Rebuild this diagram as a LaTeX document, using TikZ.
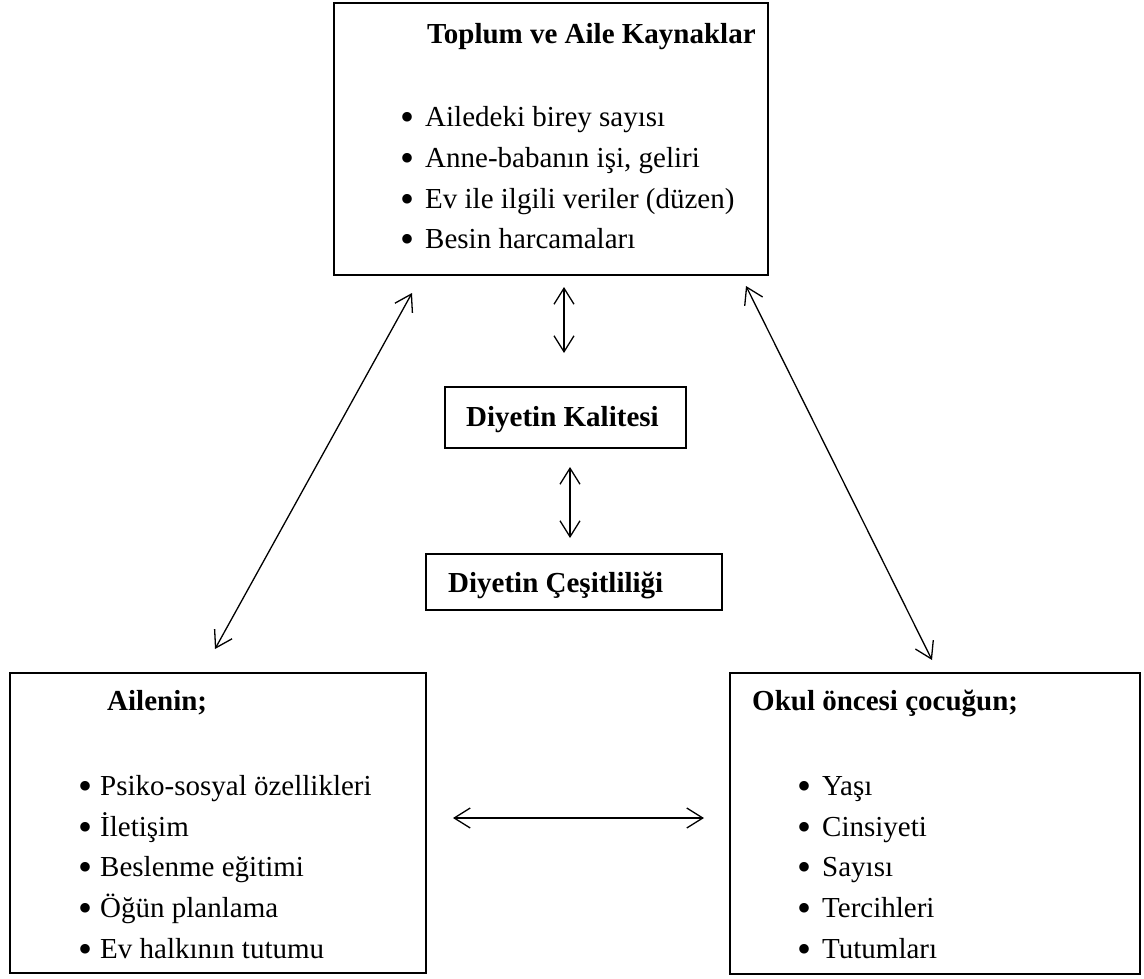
\documentclass[tikz,border=0pt]{standalone}
\usepackage{fontspec}
\setmainfont{Liberation Serif}
\usetikzlibrary{arrows.meta}
\tikzset{
  box/.style={draw, line width=1.6pt, inner sep=0pt},
  txt/.style={anchor=base west, inner sep=0pt, font=\fontsize{29}{35}\selectfont},
  bul/.style={anchor=base west, inner sep=0pt, font=\fontsize{40}{44}\selectfont, yshift=-4pt},
  ttl/.style={txt, font=\fontsize{29}{35}\selectfont\bfseries},
  conn/.style={line width=1.3pt, {Straight Barb[length=16pt,width=20pt,line width=1.3pt]}-{Straight Barb[length=16pt,width=20pt,line width=1.3pt]}},
}
\begin{document}
\begin{tikzpicture}[x=1pt,y=-1pt]
\useasboundingbox (0,0) rectangle (1144,979);
% boxes
\node[box, minimum width=434pt, minimum height=272pt] (top) at (551,139) {};
\node[box, minimum width=241pt, minimum height=61pt] (kal) at (565.5,417.5) {};
\node[box, minimum width=296pt, minimum height=56pt] (ces) at (574,582) {};
\node[box, minimum width=416pt, minimum height=300pt] (aile) at (218,823) {};
\node[box, minimum width=410pt, minimum height=301pt] (okul) at (935,823.5) {};
% top box text
\node[ttl] (t0) at (427,44) {Toplum ve Aile Kaynaklar};
\node[bul] (tb1) at (400,127) {•};   \node[txt] (t1) at (425,127) {Ailedeki birey sayısı};
\node[bul] (tb2) at (400,167.5) {•}; \node[txt] (t2) at (425,167.5) {Anne-babanın işi, geliri};
\node[bul] (tb3) at (400,208) {•};   \node[txt] (t3) at (425,208) {Ev ile ilgili veriler (düzen)};
\node[bul] (tb4) at (400,248.5) {•}; \node[txt] (t4) at (425,248.5) {Besin harcamaları};
% middle
\node[ttl] (k0) at (466,426) {Diyetin Kalitesi};
\node[ttl] (c0) at (448,592) {Diyetin Çeşitliliği};
% left box
\node[ttl] (a0) at (107,710) {Ailenin;};
\node[bul] (ab1) at (78,795) {•}; \node[txt] (a1) at (100,795) {Psiko-sosyal özellikleri};
\node[bul] (ab2) at (78,836) {•}; \node[txt] (a2) at (100,836) {İletişim};
\node[bul] (ab3) at (78,876.5) {•}; \node[txt] (a3) at (100,876.5) {Beslenme eğitimi};
\node[bul] (ab4) at (78,917) {•}; \node[txt] (a4) at (100,917) {Öğün planlama};
\node[bul] (ab5) at (78,958) {•}; \node[txt] (a5) at (100,958) {Ev halkının tutumu};
% right box
\node[ttl] (o0) at (752,710) {Okul öncesi çocuğun;};
\node[bul] (ob1) at (797,795) {•}; \node[txt] (o1) at (822,795) {Yaşı};
\node[bul] (ob2) at (797,836) {•}; \node[txt] (o2) at (822,836) {Cinsiyeti};
\node[bul] (ob3) at (797,876.5) {•}; \node[txt] (o3) at (822,876.5) {Sayısı};
\node[bul] (ob4) at (797,917) {•}; \node[txt] (o4) at (822,917) {Tercihleri};
\node[bul] (ob5) at (797,958) {•}; \node[txt] (o5) at (822,958) {Tutumları};
% connector ends
\coordinate (v1a) at (564,287); \coordinate (v1b) at (564,353);
\coordinate (v2a) at (570,467); \coordinate (v2b) at (570,538);
\coordinate (la) at (412,293);  \coordinate (lb) at (215,649);
\coordinate (ra) at (746,286);  \coordinate (rb) at (932,660);
\coordinate (ha) at (453,818);  \coordinate (hb) at (704,818);
\draw[conn] (v1a) -- (v1b);
\draw[conn] (v2a) -- (v2b);
\draw[conn] (la) -- (lb);
\draw[conn] (ra) -- (rb);
\draw[conn] (ha) -- (hb);
\end{tikzpicture}
\end{document}
